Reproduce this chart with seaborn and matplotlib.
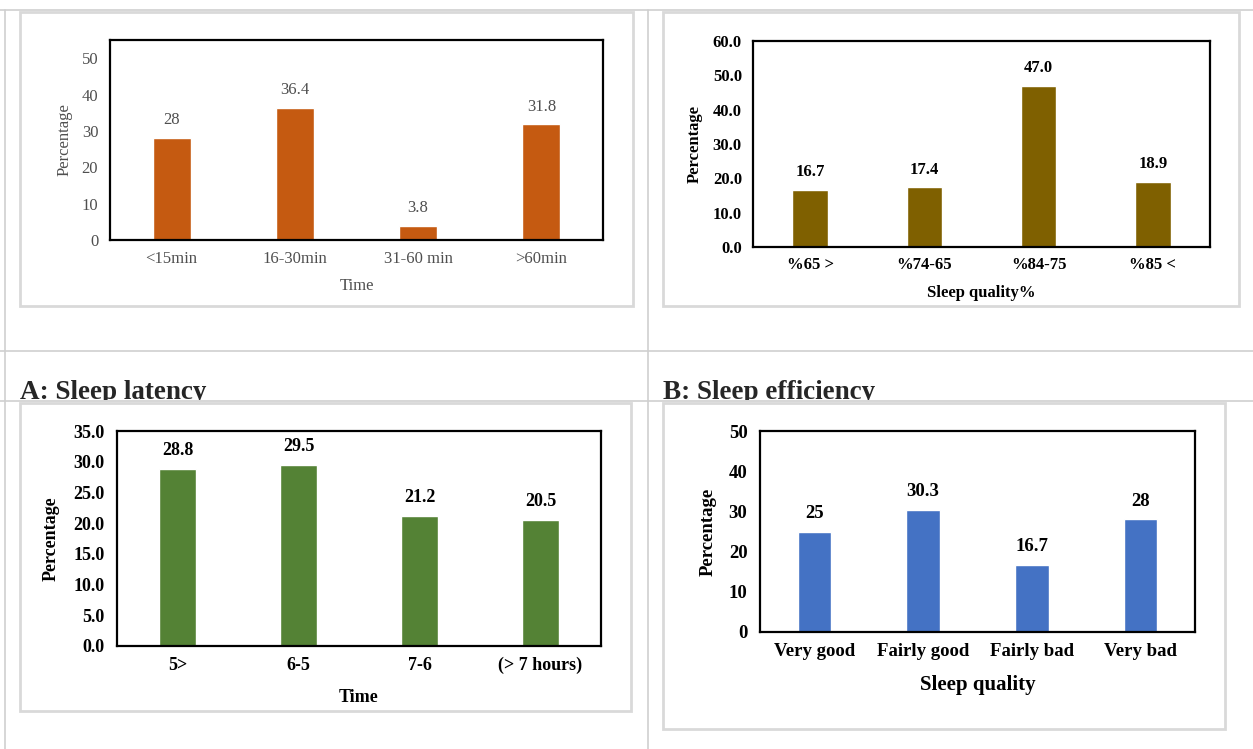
import matplotlib

matplotlib.use("Agg")
import matplotlib.pyplot as plt
import numpy as np
import pandas as pd
import seaborn as sns
from matplotlib.patches import Rectangle

W, H = 1253, 749

# data
latency_labels = ["<15min", "16-30min", "31-60 min", ">60min"]
latency_values = [28, 36.4, 3.8, 31.8]

efficiency_labels = ["%65 >", "%74-65", "%84-75", "%85 <"]
efficiency_values = [16.7, 17.4, 47.0, 18.9]

duration_labels = ["5>", "6-5", "7-6", "(> 7 hours)"]
duration_values = [28.8, 29.5, 21.2, 20.5]

quality_labels = ["Very good", "Fairly good", "Fairly bad", "Very bad"]
quality_values = [25, 30.3, 16.7, 28]

captions = ["A: Sleep latency", "B: Sleep efficiency"]

sns.set_style("white")
plt.rcParams["font.family"] = ["Liberation Serif", "DejaVu Serif"]


def px_rect(x0, y0, x1, y1):
    return [x0 / W, 1 - y1 / H, (x1 - x0) / W, (y1 - y0) / H]


def draw_panel(fig, box, labels, values, color, ymax, ytop, ystep, tick_fmt, value_fmt,
               xlabel, size, weight, text_color, xlab_size, ylab_dx, xlab_dy, xpad, ypad):
    x0, y0, x1, y1 = box
    ax = fig.add_axes(px_rect(x0, y0, x1, y1))
    df = pd.DataFrame({"cat": labels, "val": values})
    sns.barplot(data=df, x="cat", y="val", color=color, width=0.31, saturation=1, ax=ax)
    ax.set_xlim(-0.5, len(labels) - 0.5)
    ax.set_ylim(0, ymax)
    ticks = np.arange(0, ytop + 0.001, ystep)
    ax.set_yticks(ticks)
    ax.set_yticklabels([tick_fmt.format(t) for t in ticks])
    ax.tick_params(length=0, labelsize=size, labelcolor=text_color)
    ax.tick_params(axis="x", pad=xpad)
    ax.tick_params(axis="y", pad=ypad)
    for lab in ax.get_xticklabels() + ax.get_yticklabels():
        lab.set_fontweight(weight)
    for sp in ax.spines.values():
        sp.set_visible(True)
        sp.set_color("black")
        sp.set_linewidth(1.6)
    ax.bar_label(ax.containers[0], labels=[value_fmt.format(v) for v in values],
                 padding=7, fontsize=size, fontweight=weight, color=text_color)
    ax.set_xlabel(xlabel, fontsize=xlab_size, fontweight=weight, color=text_color)
    ax.set_ylabel("Percentage", fontsize=size, fontweight=weight, color=text_color)
    ax.xaxis.set_label_coords(0.5, -xlab_dy / (y1 - y0))
    ax.xaxis.label.set_va("center")
    ax.yaxis.set_label_coords(-ylab_dx / (x1 - x0), 0.5)
    ax.yaxis.label.set_va("center")
    return ax


fig = plt.figure(figsize=(W / 100, H / 100), dpi=100)

# background: table rules and light frames, in pixel units
bg = fig.add_axes([0, 0, 1, 1])
bg.set_xlim(0, W)
bg.set_ylim(H, 0)
bg.axis("off")
line_c = "#cfcfcf"
for y in (10, 351, 401):
    bg.plot([0, W], [y, y], color=line_c, lw=1.2)
for x in (5, 648):
    bg.plot([x, x], [10, H], color=line_c, lw=1.2)
frame_c = "#d9d9d9"
for fx0, fy0, fx1, fy1 in [(20, 12, 633, 306), (663, 12, 1239, 306),
                          (20, 403, 631, 711), (663, 403, 1225, 729)]:
    bg.add_patch(Rectangle((fx0, fy0), fx1 - fx0, fy1 - fy0, fill=False,
                           edgecolor=frame_c, lw=2))

draw_panel(fig, (110, 40, 603, 240), latency_labels, latency_values, "#C55A11",
           55, 50, 10, "{:.0f}", "{:g}", "Time", 12, "normal", "#4f4f4f", 12,
           45, 46, 8, 8.5)
draw_panel(fig, (753, 41, 1210, 247), efficiency_labels, efficiency_values, "#7F6000",
           60, 60, 10, "{:.1f}", "{:.1f}", "Sleep quality%", 12, "bold", "black", 12,
           58, 46, 7, 8)
draw_panel(fig, (117, 431, 601, 646), duration_labels, duration_values, "#548235",
           35, 35, 5, "{:.1f}", "{:.1f}", "Time", 13, "bold", "black", 13,
           66, 52, 8, 9)
draw_panel(fig, (760, 431, 1195, 632), quality_labels, quality_values, "#4472C4",
           50, 50, 10, "{:.0f}", "{:g}", "Sleep quality", 13.5, "bold", "black", 15,
           52, 53, 8, 9)

# captions, clipped by the table rule just under them
for cx, text in zip((20, 663), captions):
    cap = fig.add_axes(px_rect(cx - 2, 368, cx + 280, 400))
    cap.axis("off")
    cap.text(2 / 282, 1 / 32, text, transform=cap.transAxes, fontsize=19.5,
             fontweight="bold", va="baseline", ha="left", clip_on=True)

fig.savefig("out.png", dpi=100)
